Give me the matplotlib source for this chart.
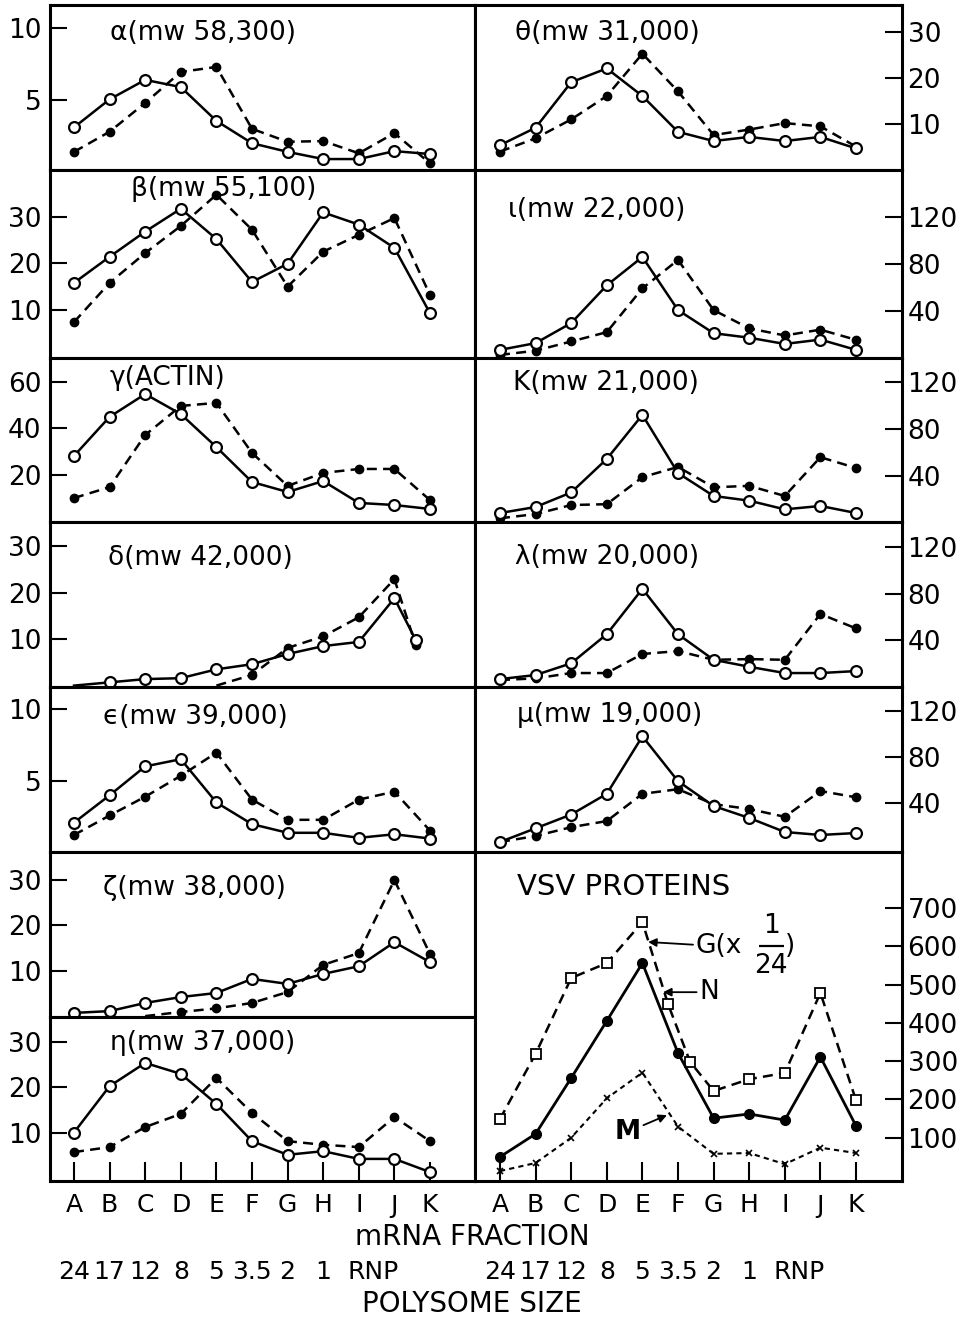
import numpy as np
import matplotlib
matplotlib.use('Agg')
import matplotlib.pyplot as plt

nan = np.nan
letters = ['A', 'B', 'C', 'D', 'E', 'F', 'G', 'H', 'I', 'J', 'K']
poly_size = ['24', '17', '12', '8', '5', '3.5', '2', '1']

# left column (open circles = solid line, filled dots = dashed line)
alpha_open = [3.1, 5.05, 6.4, 5.9, 3.55, 2.0, 1.4, 0.9, 0.9, 1.45, 1.25]
alpha_fill = [1.4, 2.8, 4.8, 6.95, 7.3, 3.0, 2.1, 2.15, 1.3, 2.7, 0.6]
beta_open = [15.8, 21.4, 26.8, 31.7, 25.2, 16.0, 19.9, 30.9, 28.3, 23.3, 9.3]
beta_fill = [7.4, 15.8, 22.2, 28.0, 34.7, 27.2, 15.0, 22.5, 26.1, 29.7, 13.2]
gamma_open = [28.2, 45, 54.8, 46.2, 32, 17, 12.7, 17.4, 8, 7.1, 5.4]
gamma_fill = [10.1, 14.8, 37.2, 49.7, 51, 29.5, 15.3, 20.9, 22.6, 22.6, 9.2]
delta_x = [0, 1, 2, 3, 4, 5, 6, 7, 8, 9, 9.6]
delta_open = [0, 0.7, 1.4, 1.6, 3.5, 4.6, 6.8, 8.5, 9.4, 18.8, 9.8]
delta_fill = [nan, nan, nan, nan, 0, 2.3, 8.1, 10.6, 14.7, 22.9, 8.7]
eps_open = [2.1, 4.0, 6.0, 6.5, 3.5, 2.0, 1.4, 1.4, 1.05, 1.3, 1.0]
eps_fill = [1.25, 2.6, 3.9, 5.35, 6.95, 3.7, 2.3, 2.3, 3.7, 4.25, 1.55]
zeta_open = [0.7, 1.1, 2.9, 4.2, 5.1, 8.2, 7.1, 9.3, 11.0, 16.3, 11.9]
zeta_fill = [nan, nan, 0, 0.9, 1.7, 2.9, 5.3, 11.3, 13.9, 30, 13.7]
eta_open = [10, 20.2, 25.3, 22.9, 16.3, 8.1, 5.1, 5.9, 4.2, 4.2, 1.3]
eta_fill = [5.7, 6.8, 11.2, 14.1, 22.0, 14.3, 8.1, 7.3, 6.8, 13.4, 8.1]

# right column
theta_open = [5.3, 9.1, 19.0, 22.0, 16.0, 8.2, 6.2, 7.1, 6.2, 7.1, 4.6]
theta_fill = [3.9, 6.8, 10.9, 16.0, 25.2, 17.0, 7.5, 8.7, 10.1, 9.4, 5.0]
iota_open = [7.3, 13, 30, 62, 86, 41, 21.4, 17.6, 12.3, 16, 7.3]
iota_fill = [3, 6.6, 14.4, 22.3, 59.4, 83.5, 41, 25.5, 19.5, 24.4, 15.8]
kappa_open = [8.5, 13.6, 26, 54.5, 92, 42.5, 23, 19, 11.6, 14.5, 8.5]
kappa_fill = [4, 7.6, 15.3, 16, 39, 47.7, 30.4, 31.6, 23, 56, 46.8]
lambda_open = [6.4, 9.9, 20, 45, 84, 45, 23, 17, 11.6, 11.6, 13.3]
lambda_fill = [5.6, 7, 11.6, 11.6, 28, 30.5, 23, 23.6, 23, 62.4, 50]
mu_open = [6.1, 18, 30, 48, 98, 59, 37.4, 27, 14.8, 12.2, 13.9]
mu_fill = [6.1, 11.3, 19, 24.3, 48, 52, 39, 34.8, 28, 50.4, 45]

# VSV proteins
vsv_n = [50, 110, 256, 405, 556, 321, 151, 162, 146, 311, 131]
vsv_g_x = [0, 1, 2, 3, 4, 4.72, 5.34, 6, 7, 8, 9, 10]
vsv_g = [149, 319, 517, 556, 663, 449, 298, 222, 253, 269, 478, 198]
vsv_m = [13, 34, 100, 203, 270, 129, 58, 60, 31, 74, 60]

plt.rcParams['font.family'] = 'DejaVu Sans'
W, H = 972, 1319
fig = plt.figure(figsize=(W / 100, H / 100), dpi=100)

rows = [5, 170, 358, 522, 687, 852, 1017, 1181]
colx = [(50, 475), (475, 902)]


def make_ax(col, top, bottom):
    x0, x1 = colx[col]
    ax = fig.add_axes([x0 / W, 1 - bottom / H, (x1 - x0) / W, (bottom - top) / H])
    a = 74 if col == 0 else 500
    ax.set_xlim((x0 - a) / 35.6, (x1 - a) / 35.6)
    for s in ax.spines.values():
        s.set_linewidth(2.2)
    ax.tick_params(axis='x', bottom=False, labelbottom=False)
    if col == 0:
        ax.tick_params(axis='y', direction='in', length=12, width=1.5, labelsize=19, pad=6)
    else:
        ax.tick_params(axis='y', direction='in', length=12, width=1.5, labelsize=19, pad=4,
                       left=False, labelleft=False, right=True, labelright=True)
    return ax


def draw_pair(ax, x, o, f):
    x = np.array(x, dtype=float)
    o = np.array(o, dtype=float)
    f = np.array(f, dtype=float)
    ax.plot(x, f, color='k', lw=1.8, ls=(0, (4, 2.5)), zorder=2)
    m = f > 0
    ax.plot(x[m], f[m], 'o', ms=6, color='k', zorder=3)
    ax.plot(x, o, color='k', lw=1.8, zorder=2)
    m = o > 0
    ax.plot(x[m], o[m], 'o', ms=7.8, mfc='white', mec='k', mew=1.6, zorder=4)


idx = list(range(11))
left_panels = [
    ('α(mw 58,300)', alpha_open, alpha_fill, idx, (0.14, 11.6), [5, 10], (0.14, 0.83)),
    ('β(mw 55,100)', beta_open, beta_fill, idx, (-0.3, 40), [10, 20, 30], (0.19, 0.90)),
    ('γ(ACTIN)', gamma_open, gamma_fill, idx, (-0.2, 70.3), [20, 40, 60], (0.14, 0.88)),
    ('δ(mw 42,000)', delta_open, delta_fill, delta_x, (-0.3, 35.2), [10, 20, 30], (0.137, 0.78)),
    ('ϵ(mw 39,000)', eps_open, eps_fill, idx, (0.07, 11.5), [5, 10], (0.125, 0.82)),
    ('ζ(mw 38,000)', zeta_open, zeta_fill, idx, (-0.2, 36.2), [10, 20, 30], (0.125, 0.78)),
    ('η(mw 37,000)', eta_open, eta_fill, idx, (-0.66, 35.4), [10, 20, 30], (0.14, 0.84)),
]
right_panels = [
    ('θ(mw 31,000)', theta_open, theta_fill, (-0.1, 35.8), [10, 20, 30], (0.094, 0.83)),
    ('ι(mw 22,000)', iota_open, iota_fill, (0.4, 159.7), [40, 80, 120], (0.077, 0.785)),
    ('K(mw 21,000)', kappa_open, kappa_fill, (0.85, 140.4), [40, 80, 120], (0.089, 0.85)),
    ('λ(mw 20,000)', lambda_open, lambda_fill, (-0.4, 141.5), [40, 80, 120], (0.094, 0.79)),
    ('μ(mw 19,000)', mu_open, mu_fill, (-2.6, 140.9), [40, 80, 120], (0.098, 0.83)),
]

for i, (lab, o, f, x, yl, yt, pos) in enumerate(left_panels):
    ax = make_ax(0, rows[i], rows[i + 1])
    draw_pair(ax, x, o, f)
    ax.set_ylim(*yl)
    ax.set_yticks(yt)
    ax.text(pos[0], pos[1], lab, transform=ax.transAxes, fontsize=19, ha='left', va='center')
    if i == 6:
        ax.set_xticks(idx)
        ax.set_xticklabels(letters)
        ax.tick_params(axis='x', bottom=True, labelbottom=True, direction='in',
                       length=14, width=1.5, labelsize=18, pad=9)
        eta_ax = ax

for i, (lab, o, f, yl, yt, pos) in enumerate(right_panels):
    ax = make_ax(1, rows[i], rows[i + 1])
    draw_pair(ax, idx, o, f)
    ax.set_ylim(*yl)
    ax.set_yticks(yt)
    ax.text(pos[0], pos[1], lab, transform=ax.transAxes, fontsize=19, ha='left', va='center')

# VSV panel
ax = make_ax(1, rows[5], rows[7])
ax.plot(vsv_g_x, vsv_g, color='k', lw=1.8, ls=(0, (4, 2.5)), marker='s', ms=7,
        mfc='white', mec='k', mew=1.3, zorder=3)
ax.plot(idx, vsv_n, color='k', lw=2, marker='o', ms=7, zorder=3)
ax.plot(idx, vsv_m, color='k', lw=1.5, ls=(0, (2.5, 2)), marker='x', ms=5, mew=1.2, zorder=3)
ax.set_ylim(-13, 846)
ax.set_yticks([100, 200, 300, 400, 500, 600, 700])
ax.set_xticks(idx)
ax.set_xticklabels(letters)
ax.tick_params(axis='x', bottom=True, labelbottom=True, direction='in',
               length=14, width=1.5, labelsize=18, pad=9)
ax.text(0.098, 0.894, 'VSV PROTEINS', transform=ax.transAxes, fontsize=21, ha='left', va='center')
arw = dict(arrowstyle='-|>', color='k', lw=1.3, mutation_scale=12, shrinkA=0, shrinkB=0)
ax.annotate('G(x', xy=(4.16, 611), xytext=(5.5, 600), fontsize=19, va='center', ha='left',
            arrowprops=arw)
ax.text(7.62, 652, '1', fontsize=19, ha='center', va='center')
ax.hlines(600, 7.28, 7.98, color='k', lw=1.6)
ax.text(7.62, 548, '24', fontsize=19, ha='center', va='center')
ax.text(8.15, 600, ')', fontsize=19, ha='center', va='center')
ax.annotate('N', xy=(4.58, 480), xytext=(5.6, 480), fontsize=19, va='center', ha='left',
            arrowprops=arw)
ax.annotate('M', xy=(4.69, 159), xytext=(3.95, 115), fontsize=19, va='center', ha='right',
            fontweight='bold', arrowprops=arw)
vsv_ax = ax

# bottom captions
fig.text(472 / W, 1 - 1237 / H, 'mRNA FRACTION', fontsize=20, ha='center', va='center')
fig.text(472 / W, 1 - 1304 / H, 'POLYSOME SIZE', fontsize=20, ha='center', va='center')
for a in [eta_ax, vsv_ax]:
    for k, s in enumerate(poly_size):
        a.annotate(s, xy=(k, 1 - 1272 / H), xycoords=('data', 'figure fraction'),
                   fontsize=18, ha='center', va='center', annotation_clip=False)
    a.annotate('RNP', xy=(8.4, 1 - 1272 / H), xycoords=('data', 'figure fraction'),
               fontsize=18, ha='center', va='center', annotation_clip=False)

fig.savefig('out.png', dpi=100)
